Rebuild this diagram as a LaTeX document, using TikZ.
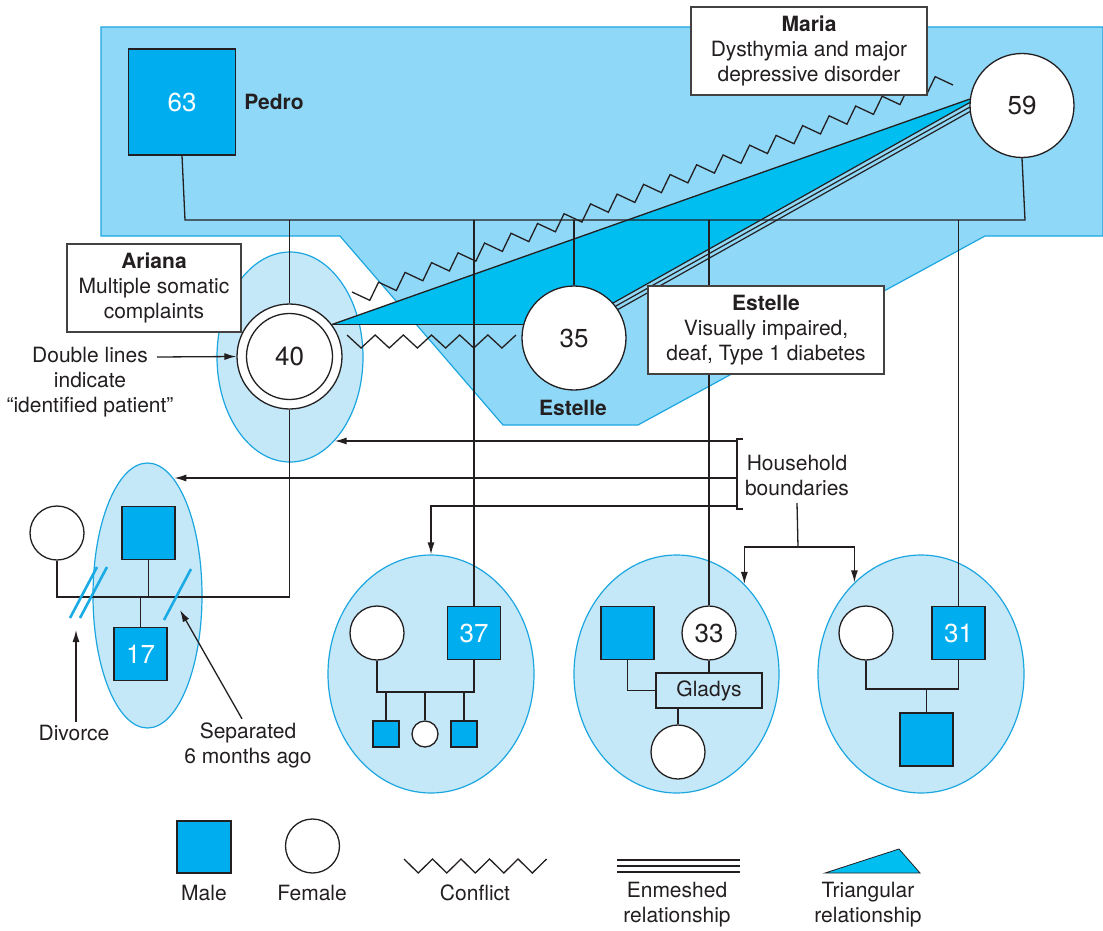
\documentclass[tikz,border=0pt]{standalone}
\usepackage{fontspec}
\setmainfont{TeX Gyre Heros}
\usetikzlibrary{shapes.geometric,arrows.meta,calc}

\definecolor{ink}{HTML}{231F20}
\definecolor{zone}{HTML}{8FD8F7}
\definecolor{zoneedge}{HTML}{1BA6E0}
\definecolor{house}{HTML}{C5E8F8}
\definecolor{male}{HTML}{00AEEF}
\definecolor{tri}{HTML}{00BEF0}
\definecolor{cutc}{HTML}{1AABE4}

\pgfdeclarelayer{back}
\pgfdeclarelayer{mid}
\pgfsetlayers{back,mid,main}

\begin{document}
\begin{tikzpicture}[x=1pt,y=-1pt,
  every node/.style={text=ink, font=\fontsize{21}{25}\selectfont},
  boldlabel/.style={font=\bfseries\fontsize{21}{25}\selectfont},
  link/.style={draw=ink, line width=1.3pt},
  malebox/.style={rectangle, draw=ink, line width=1.3pt, fill=male, minimum size=53pt,
    inner sep=0pt, text=white, font=\fontsize{26}{30}\selectfont},
  femcircle/.style={circle, draw=ink, line width=1.3pt, fill=white, minimum size=54pt,
    inner sep=0pt, font=\fontsize{26}{30}\selectfont},
  household/.style={ellipse, draw=zoneedge, line width=1.2pt, fill=house, inner sep=0pt},
  notebox/.style={rectangle, draw=ink!85, line width=1.3pt, fill=white, align=center, inner sep=0pt},
  arrowline/.style={draw=ink, line width=1.3pt, -{Latex[length=12pt,width=7pt]}},
  conflict/.style={draw=ink, line width=1.3pt, line join=miter},
  cutmark/.style={draw=cutc, line width=2.6pt}
]
\useasboundingbox (0,0) rectangle (1103,931);

% ---------- people ----------
\node[malebox, minimum width=107pt, minimum height=106pt] (pedro) at (182,102) {63};
\node[boldlabel] (pedroname) at (274,102) {Pedro};
\node[femcircle, minimum size=104pt] (maria) at (1022,105.5) {59};
\node[femcircle, minimum size=105pt] (ariana) at (289.5,356.5) {40};
\draw[ink, line width=1.3pt] (ariana.center) circle (43pt);
\node[femcircle, minimum size=104pt] (estelle) at (574,338) {35};
\node[boldlabel] (estellename) at (573,408) {Estelle};

% ---------- note boxes ----------
\node[notebox, minimum width=236pt, minimum height=88pt] (mariabox) at (809,51)
  {\textbf{Maria}\\Dysthymia and major\\depressive disorder};
\node[notebox, minimum width=174pt, minimum height=88pt] (arianabox) at (154,288)
  {\textbf{Ariana}\\Multiple somatic\\complaints};
\node[notebox, minimum width=236pt, minimum height=88pt] (estellebox) at (766,330)
  {\textbf{Estelle}\\Visually impaired,\\deaf, Type 1 diabetes};

% ---------- Ariana's household ----------
\node[femcircle] (exwife) at (57,533) {};
\node[malebox] (husband) at (148.5,533) {};
\node[malebox] (son) at (140.5,654) {17};

% ---------- household of 37 ----------
\node[femcircle] (w37) at (377,633) {};
\node[malebox] (m37) at (474,633) {37};
\node[malebox, minimum size=26pt] (k1) at (386,734) {};
\node[femcircle, minimum size=26pt] (k2) at (425,734) {};
\node[malebox, minimum size=26pt] (k3) at (464,734) {};

% ---------- household of 33 ----------
\node[malebox] (h33) at (627.5,633) {};
\node[femcircle] (f33) at (709,633) {33};
\node[rectangle, draw=ink, line width=1.3pt, fill=house, minimum width=106pt,
  minimum height=35pt, inner sep=0pt] (gladys) at (709,690.5) {Gladys};
\node[femcircle] (gkid) at (678,752) {};

% ---------- household of 31 ----------
\node[femcircle] (w31) at (866,633) {};
\node[malebox] (m31) at (958.5,633) {31};
\node[malebox] (k31) at (926.5,739.5) {};

% ---------- annotations ----------
\node[align=center] (dltxt) at (90,382) {Double lines\\indicate\\“identified patient”};
\coordinate (dlfrom) at (157,357);
\node (divtxt) at (74,733) {Divorce};
\coordinate (divtip) at (76,630);
\node[align=center] (septxt) at (248,745) {Separated\\6 months ago};
\coordinate (septip) at (180,610);
\node[align=center, inner sep=0pt] (hbtxt) at (797,475) {Household\\boundaries};

% ---------- legend ----------
\node[malebox, minimum width=54pt, minimum height=52pt] (lgmale) at (204,847) {};
\node[femcircle] (lgfemale) at (312.5,846) {};
\node (lgmalet) at (204,893) {Male};
\node (lgfemalet) at (312,893) {Female};
\node (lgconft) at (475,893) {Conflict};
\node[align=center] (lgenmt) at (677,905) {Enmeshed\\relationship};
\node[align=center] (lgtrit) at (868,905) {Triangular\\relationship};

% ---------- background regions ----------
\begin{pgfonlayer}{back}
  \filldraw[fill=zone, draw=zoneedge, line width=1.2pt]
    (101,27) -- (1103,27) -- (1103,236) -- (985,236) -- (638,425) -- (503,425)
    -- (340,236) -- (101,236) -- cycle;
  \node[household, minimum width=146pt, minimum height=210pt] (ariEll) at (290,357) {};
  \node[household, minimum width=109pt, minimum height=265pt] (sonEll) at (147.5,595.5) {};
  \node[household, minimum width=206pt, minimum height=238pt] (hh1) at (431,674) {};
  \node[household, minimum width=205pt, minimum height=238pt] (hh2) at (676.5,674) {};
  \node[household, minimum width=206pt, minimum height=238pt] (hh3) at (921,674) {};
  % triangular relationship Ariana - Maria - Estelle
  \coordinate (enA) at (580,326.2);
  \coordinate (enB) at (1000,90.1);
  \fill[tri] (ariana.37) -- (maria.173) -- ($(enB)+(-1.96,-3.49)$)
    -- ($(enA)+(-1.96,-3.49)$) -- (estelle.center |- ariana.37) -- cycle;
\end{pgfonlayer}

% ---------- connectors ----------
\begin{pgfonlayer}{mid}
  % marriage of Pedro and Maria and their children
  \coordinate (mL) at (185,220);
  \coordinate (mR) at (1025,220);
  \draw[link] (pedro.south) -- (mL) -- (mR) -- (maria.south);
  \draw[link] (ariana.north) -- (ariana.north |- mL);
  \draw[link] (estelle.north) -- (estelle.north |- mL);
  \draw[link] (m37.north) -- (m37.north |- mL);
  \draw[link] (f33.north) -- (f33.north |- mL);
  \draw[link] (m31.north) -- (m31.north |- mL);

  % Ariana's marriages
  \coordinate (famL) at (57,597);
  \draw[link] (ariana.south) -- (ariana.south |- famL) -- (famL) -- (exwife.south);
  \draw[link] (husband.south) -- (husband.south |- famL);
  \draw[link] (son.north) -- (son.north |- famL);
  \draw[cutmark] (70,618) -- (97,567);
  \draw[cutmark] (80,618) -- (107,567);
  \draw[cutmark] (164,620) -- (191,569);

  % household of 37
  \coordinate (fam37) at (377,692);
  \draw[link] (w37.south) -- (fam37) -| (m37.south);
  \draw[link] (k1.north) -- (k1.north |- fam37);
  \draw[link] (k2.north) -- (k2.north |- fam37);
  \draw[link] (k3.north) -- (k3.north |- fam37);

  % household of 33
  \draw[link] (h33.south) |- (gladys.west);
  \draw[link] (f33.south) -- (f33.south |- gladys.north);
  \draw[link] (gkid.north) -- (gkid.north |- gladys.south);

  % household of 31
  \coordinate (fam31) at (866,689);
  \draw[link] (w31.south) -- (fam31) -| (m31.south);
  \draw[link] (k31.north) -- (k31.north |- fam31);

  % triangle edges and enmeshed relationship
  \draw[link] (ariana.37) -- (maria.173);
  \draw[link] (ariana.37) -- (estelle.center |- ariana.37);
  \foreach \o in {-1,0,1}
    \draw[link, line width=1.2pt] ($(enA)+(\o*1.96,\o*3.49)$) -- ($(enB)+(\o*1.96,\o*3.49)$);

  % conflicts
  \draw[conflict] (352,292) \foreach \k in {1,...,45}
    { -- ({354.3+\k*13.2533+2.28*(2*mod(\k,2)-1)},{298.6-\k*4.8933+6.62*(2*mod(\k,2)-1)}) };
  \draw[conflict] (347,335) \foreach \k in {1,...,12}
    { -- ({347+\k*14.083},{335+13*mod(\k,2)}) };

  % annotation arrows
  \draw[arrowline] (dlfrom) -- (ariana.west);
  \draw[arrowline] (divtip |- divtxt.north) -- (divtip);
  \draw[arrowline] ([xshift=-6pt]septxt.north) -- (septip);

  % household boundaries
  \coordinate (b1) at (737,441);
  \coordinate (b2) at (737,478);
  \coordinate (b3) at (737,506);
  \draw[link] (743,439) -- (737,439) -- (737,509) -- (743,509);
  \draw[arrowline] (b1) -- (b1 -| ariEll.-62.5);
  \draw[arrowline] (b2) -- (b2 -| sonEll.77.9);
  \draw[arrowline] (b3) -| (hh1.north);
  \coordinate (hsplit) at (798,547);
  \draw[link] (hbtxt.south |- 0,503) -- (hsplit);
  \draw[arrowline] (hsplit) -| (hh2.53);
  \draw[arrowline] (hsplit) -| (hh3.126.4);

  % legend symbols
  \draw[conflict] (404,859) \foreach \k in {1,...,10}
    { -- ({404+\k*14.26},{859+14*mod(\k,2)}) };
  \draw[link, line width=1.2pt] (617,860) -- (740,860);
  \draw[link, line width=1.2pt] (617,866) -- (740,866);
  \draw[link, line width=1.2pt] (617,872) -- (740,872);
  \filldraw[fill=tri, draw=ink, line width=0.8pt] (825,873) -- (899,849) -- (920,873) -- cycle;
\end{pgfonlayer}
\end{tikzpicture}
\end{document}
